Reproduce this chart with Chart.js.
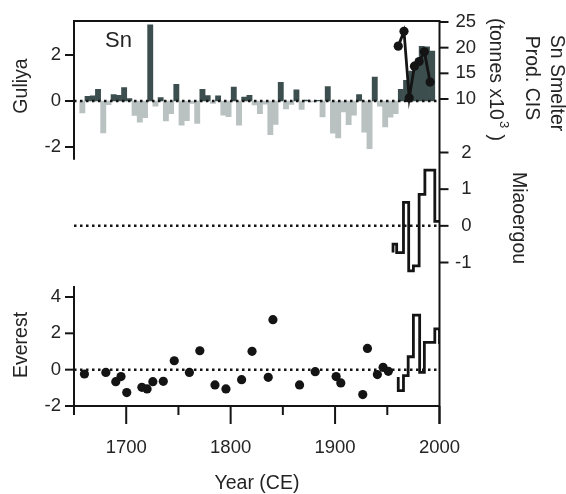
<!DOCTYPE html>
<html>
<head>
<meta charset="utf-8">
<script src="https://cdn.jsdelivr.net/npm/chart.js@4.4.0/dist/chart.umd.min.js"></script>
<style>
    html, body { margin: 0; padding: 0; background: #fff; }
</style>
</head>
<body>
<canvas id="chart" width="566" height="494"></canvas>
<script>
// Guliya Sn anomaly, 5-yr bars (bar centre year)
const guliyaYears = [
    1658, 1663, 1668, 1673, 1678, 1683, 1688, 1693, 1698, 1703,
    1708, 1713, 1718, 1723, 1728, 1733, 1738, 1743, 1748, 1753,
    1758, 1763, 1768, 1773, 1778, 1783, 1788, 1793, 1798, 1803,
    1808, 1813, 1818, 1823, 1828, 1833, 1838, 1843, 1848, 1853,
    1858, 1863, 1868, 1873, 1878, 1883, 1888, 1893, 1898, 1903,
    1908, 1913, 1918, 1923, 1928, 1933, 1938, 1943, 1948, 1953,
    1958, 1963, 1968, 1973, 1978, 1983, 1988, 1993
];
const guliyaValues = [
    -0.52, 0.20, 0.22, 0.51, -1.39, -0.16, 0.28, 0.25, 0.58, 0.10,
    -0.63, -0.92, -0.73, 3.31, -0.23, 0.15, -0.87, -0.55, 0.72, -1.05,
    -0.85, -0.10, -0.98, 0.51, 0.24, -0.10, 0.22, -0.62, -0.68, 0.60,
    -1.05, 0.17, 0.25, -0.17, -0.55, -0.14, -1.46, -1.02, 0.81, -0.34,
    -0.15, 0.49, -0.37, 0.04, -0.04, 0.03, -0.69, 0.63, -1.40, -1.60,
    -0.48, -1.03, -0.62, 0.28, -1.35, -2.07, 1.04, -0.23, -1.13, -0.70,
    -0.55, 0.51, 0.90, 1.30, 1.70, 2.38, 2.35, 2.17
];

// Sn smelter production, CIS (tonnes x10^3)
const snYears = [1960.5, 1966, 1971, 1976, 1980.5, 1985.5, 1991];
const snValues = [20.3, 23.2, 10.2, 16.4, 17.3, 19.2, 13.3];

// Miaoergou step record
const miaoYears = [1955.5, 1955.5, 1959, 1965.5, 1970.5, 1975, 1980.5, 1986, 1995.5, 2000];
const miaoValues = [-0.73, -0.5, -0.73, 0.64, -1.23, -1.09, 0.86, 1.52, 0.12, 0.12];

// Everest step record
const everestStepYears = [1960.5, 1960.5, 1965.5, 1970, 1975, 1981, 1985.5, 1995.5, 2000, 2000];
const everestStepValues = [-0.4, -1.15, -0.33, 0.71, 3.0, -0.15, 1.5, 2.24, 2.24, 1.41];

// Everest point samples
const everestYears = [
    1660, 1680.5, 1690, 1695, 1700.5, 1715, 1720, 1725.5, 1735.5, 1746,
    1760.5, 1770.5, 1785, 1795.5, 1810.5, 1820.5, 1836, 1840.5, 1866, 1881,
    1901, 1905.5, 1926.5, 1931, 1940.5, 1946, 1951
];
const everestValues = [
    -0.24, -0.15, -0.66, -0.38, -1.26, -0.97, -1.06, -0.66, -0.64, 0.49,
    -0.15, 1.04, -0.84, -1.06, -0.55, 1.01, -0.42, 2.75, -0.84, -0.11,
    -0.38, -0.73, -1.37, 1.17, -0.27, 0.13, -0.09
];

// Tick labels
const yearMajorTicks = [1700, 1800, 1900, 2000];
const yearMinorTicks = [1650, 1750, 1850, 1950];
const guliyaTicks = [-2, 0, 2];
const snTicks = [10, 15, 20, 25];
const miaoTicks = [-1, 0, 1, 2];
const everestTicks = [-2, 0, 2, 4];

const INK = '#141414';
const TEXT = '#242424';
const FONT = '"Liberation Sans", Arial, sans-serif';
const BAR_POS = '#3c4e4e';
const BAR_NEG = '#b9c1c1';

function pairs(xs, ys) {
    return xs.map(function(x, i) { return { x: x, y: ys[i] }; });
}

function seg(ctx, x1, y1, x2, y2) {
    ctx.beginPath();
    ctx.moveTo(x1, y1);
    ctx.lineTo(x2, y2);
    ctx.stroke();
}

function label(ctx, str, x, y, align, size, rot) {
    ctx.save();
    ctx.translate(x, y);
    if (rot) ctx.rotate(rot);
    ctx.font = size + 'px ' + FONT;
    ctx.fillStyle = TEXT;
    ctx.textAlign = align;
    ctx.textBaseline = 'middle';
    ctx.fillText(str, 0, 0);
    ctx.restore();
}

/**
 * Dotted zero lines, drawn right after the bars
 */
const zeroLines = {
    id: 'zeroLines',
    afterDatasetDraw: function(chart, args) {
        if (args.index !== 4) return;
        const ctx = chart.ctx;
        const x = chart.scales.x;
        const l = x.getPixelForValue(1650), r = x.getPixelForValue(2000);
        ctx.save();
        ctx.strokeStyle = INK;
        ctx.lineWidth = 2.5;
        ctx.setLineDash([2.5, 3.5]);
        ['yGul', 'yMia', 'yEv'].forEach(function(id) {
            const py = chart.scales[id].getPixelForValue(0);
            seg(ctx, l, py, r, py);
        });
        ctx.restore();
    }
};

/**
 * Panel axes, ticks and titles
 */
const panelAxes = {
    id: 'panelAxes',
    afterDatasetsDraw: function(chart) {
        const ctx = chart.ctx;
        const s = chart.scales;
        const l = s.x.getPixelForValue(1650), r = s.x.getPixelForValue(2000);
        const top = s.yGul.getPixelForValue(s.yGul.max);
        const bottom = s.yEv.getPixelForValue(-2);

        ctx.save();
        ctx.strokeStyle = INK;
        ctx.lineWidth = 2;
        ctx.lineCap = 'butt';

        // frame pieces
        seg(ctx, l - 1, top, r + 1, top);
        seg(ctx, l, top, l, s.yGul.getPixelForValue(-2.55));
        seg(ctx, l, s.yEv.getPixelForValue(4.6), l, bottom + 9);
        seg(ctx, r, top, r, bottom + 18);
        seg(ctx, l, bottom, r, bottom);

        // year ticks
        yearMajorTicks.forEach(function(v) {
            const px = s.x.getPixelForValue(v);
            seg(ctx, px, bottom, px, bottom + 18);
            label(ctx, String(v), px, bottom + 42, 'center', 18.5);
        });
        yearMinorTicks.forEach(function(v) {
            const px = s.x.getPixelForValue(v);
            seg(ctx, px, bottom, px, bottom + 9);
        });

        // left ticks
        guliyaTicks.forEach(function(v) {
            const py = s.yGul.getPixelForValue(v);
            seg(ctx, l - 9, py, l, py);
            label(ctx, String(v), l - 13, py, 'right', 18.5);
        });
        everestTicks.forEach(function(v) {
            const py = s.yEv.getPixelForValue(v);
            seg(ctx, l - 9, py, l, py);
            label(ctx, String(v), l - 13, py, 'right', 18.5);
        });

        // right ticks
        snTicks.forEach(function(v) {
            const py = s.ySn.getPixelForValue(v);
            seg(ctx, r, py, r + 9, py);
            label(ctx, String(v), r + 16, py, 'left', 18.5);
        });
        miaoTicks.forEach(function(v) {
            const py = s.yMia.getPixelForValue(v);
            seg(ctx, r, py, r + 9, py);
            label(ctx, String(v), r + 32, py, 'right', 18.5);
        });

        // titles
        label(ctx, 'Guliya', 22, 86, 'center', 19.5, -Math.PI / 2);
        label(ctx, 'Everest', 22, 345, 'center', 19.5, -Math.PI / 2);
        label(ctx, 'Year (CE)', 257, 484, 'center', 19.5);
        label(ctx, 'Sn', 105, 41, 'left', 22);
        label(ctx, 'Sn Smelter', 556, 83, 'center', 19.5, Math.PI / 2);
        label(ctx, 'Prod. CIS', 531, 78, 'center', 19.5, Math.PI / 2);
        label(ctx, 'Miaoergou', 518, 218, 'center', 19.5, Math.PI / 2);

        // third line with superscript
        ctx.save();
        ctx.translate(495, 18);
        ctx.rotate(Math.PI / 2);
        ctx.fillStyle = TEXT;
        ctx.textBaseline = 'middle';
        ctx.textAlign = 'left';
        ctx.font = '19.5px ' + FONT;
        const part1 = '(tonnes x10';
        const w1 = ctx.measureText(part1).width;
        ctx.fillText(part1, 0, 0);
        ctx.font = '13px ' + FONT;
        ctx.fillText('3', w1 + 1, -9);
        const w2 = ctx.measureText('3').width;
        ctx.font = '19.5px ' + FONT;
        ctx.fillText(' )', w1 + w2 + 2, 0);
        ctx.restore();

        ctx.restore();
    }
};

new Chart(document.getElementById('chart'), {
    type: 'line',
    data: {
        datasets: [
            {
                label: 'Sn smelter',
                data: pairs(snYears, snValues),
                yAxisID: 'ySn',
                borderColor: INK,
                borderWidth: 2.8,
                pointRadius: 4.6,
                pointBackgroundColor: INK,
                pointBorderWidth: 0
            },
            {
                label: 'Miaoergou',
                data: pairs(miaoYears, miaoValues),
                yAxisID: 'yMia',
                stepped: true,
                borderColor: INK,
                borderWidth: 2.8,
                pointRadius: 0
            },
            {
                label: 'Everest step',
                data: pairs(everestStepYears, everestStepValues),
                yAxisID: 'yEv',
                stepped: true,
                borderColor: INK,
                borderWidth: 2.8,
                pointRadius: 0
            },
            {
                label: 'Everest',
                data: pairs(everestYears, everestValues),
                yAxisID: 'yEv',
                showLine: false,
                pointRadius: 4.6,
                pointBackgroundColor: INK,
                pointBorderWidth: 0
            },
            {
                type: 'bar',
                label: 'Guliya',
                data: pairs(guliyaYears, guliyaValues),
                yAxisID: 'yGul',
                backgroundColor: guliyaValues.map(function(v) { return v >= 0 ? BAR_POS : BAR_NEG; }),
                borderWidth: 0,
                barPercentage: 1,
                categoryPercentage: 1,
                grouped: false
            }
        ]
    },
    options: {
        responsive: false,
        animation: false,
        devicePixelRatio: 1,
        layout: { padding: { left: 74, right: 126.5, top: 21, bottom: 88 } },
        plugins: {
            legend: { display: false },
            tooltip: { enabled: false }
        },
        scales: {
            x: { type: 'linear', min: 1650, max: 2000, display: false, offset: false },
            yGul: { type: 'linear', min: -13.26, max: 3.478, display: false },
            ySn: { type: 'linear', min: -49.81, max: 25.195, display: false },
            yMia: { type: 'linear', min: -4.913, max: 5.586, display: false },
            yEv: { type: 'linear', min: -2, max: 19.19, display: false }
        }
    },
    plugins: [zeroLines, panelAxes]
});
</script>
</body>
</html>
